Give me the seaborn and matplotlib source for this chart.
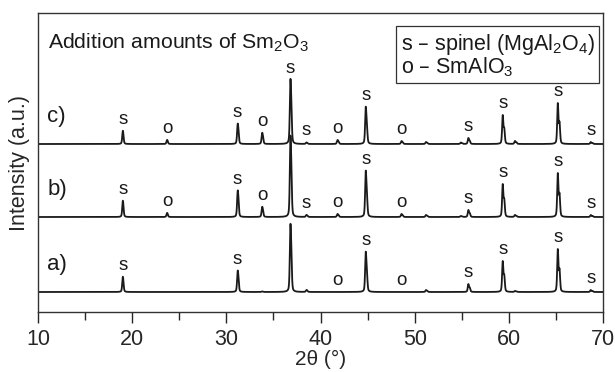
import numpy as np
import pandas as pd
import seaborn as sns
import matplotlib.pyplot as plt

# reflections: position (2theta, deg) and phase letter
peak_pos = [19.0, 23.7, 31.2, 33.8, 36.8, 38.5, 41.8, 44.8, 48.6, 51.2, 54.9, 55.7, 59.35, 60.65, 65.2, 68.7]
peak_phase = ["s", "o", "s", "o", "s", "s", "o", "s", "o", "", "", "s", "s", "", "s", "s"]

# peak intensities (a.u.)
int_a = [15, 0, 21, 0.5, 67, 2, 0, 40, 0, 2, 0, 8, 31, 1, 43, 2]
int_b = [16, 4, 26, 10, 80, 2, 3, 46, 3, 2, 1, 7, 33, 2, 44, 2]
int_c = [13, 4, 20, 11, 64, 1.5, 4, 37, 3, 2, 1.5, 6, 29, 3, 41, 2]

# which peaks carry a letter in each pattern
show_a = [1, 0, 1, 0, 0, 0, 1, 1, 1, 0, 0, 1, 1, 0, 1, 1]
show_b = [1, 1, 1, 1, 0, 1, 1, 1, 1, 0, 0, 1, 1, 0, 1, 1]
show_c = [1, 1, 1, 1, 1, 1, 1, 1, 1, 0, 0, 1, 1, 0, 1, 1]

samples = ["a)", "b)", "c)"]
intensities = [int_a, int_b, int_c]
shows = [show_a, show_b, show_c]
offsets = [20, 95, 168]  # vertical stacking of the patterns


def pv(x, fwhm=0.15, eta=0.4):
    g = np.exp(-4 * np.log(2) * (x / fwhm) ** 2)
    l = 1 / (1 + 4 * (x / fwhm) ** 2)
    return eta * l + (1 - eta) * g


tt = np.arange(10, 70.001, 0.01)
rows = []
for name, ints, off in zip(samples, intensities, offsets):
    y = np.zeros_like(tt)
    for p, h in zip(peak_pos, ints):
        d = np.degrees(2 * np.tan(np.radians(p / 2)) * 0.00248)  # Ka2 shift
        y += h * (pv(tt - p) + 0.5 * pv(tt - p - d)) / (1 + 0.5 * pv(d))
    rows.append(pd.DataFrame({"2theta": tt, "I": y + off, "sample": name}))
df = pd.concat(rows)

sns.set_style("ticks")
plt.rcParams["font.family"] = ["Liberation Sans", "DejaVu Sans"]
plt.rcParams["mathtext.default"] = "regular"

fig = plt.figure(figsize=(6.15, 3.72), dpi=100)
ax = fig.add_axes([0.0618, 0.1613, 0.9187, 0.8037])

sns.lineplot(data=df, x="2theta", y="I", hue="sample", palette=["#1a1a1a"] * 3,
             estimator=None, legend=False, lw=1.3, ax=ax)

for name, ints, show, off in zip(samples, intensities, shows, offsets):
    for p, h, ph, s in zip(peak_pos, ints, peak_phase, show):
        if s:
            ax.annotate(ph, (p, off + h), xytext=(0, 8.5), textcoords="offset points",
                        ha="center", va="center", fontsize=13.5, color="#1a1a1a")
    ax.text(11.0, off + 28, name, ha="left", va="center", fontsize=16, color="#1a1a1a")

ax.text(0.0177, 0.882, "Addition amounts of Sm$_2$O$_3$", transform=ax.transAxes,
        ha="left", va="baseline", fontsize=15.3, color="#1a1a1a")
ax.text(0.986, 0.938, "s \u2013 spinel (MgAl$_2$O$_4$)\no \u2013 SmAlO$_3$",
        transform=ax.transAxes, ha="right", va="top", fontsize=15.5, color="#1a1a1a",
        multialignment="left", linespacing=0.92,
        bbox=dict(boxstyle="square,pad=0.2", fc="white", ec="#333333", lw=0.9))

ax.set_xlim(10, 70)
ax.set_ylim(0, 299)
ax.set_xticks(range(10, 71, 10))
ax.set_xticks(range(15, 70, 10), minor=True)
ax.set_yticks([])
ax.tick_params(axis="x", which="major", direction="out", length=8, width=1, labelsize=15.5, pad=4)
ax.tick_params(axis="x", which="minor", direction="out", length=6, width=1)
ax.set_xlabel("2\u03b8 (\u00b0)", fontsize=15, labelpad=0.5)
ax.set_ylabel("Intensity (a.u.)", fontsize=15.5, labelpad=6)
for sp in ax.spines.values():
    sp.set_visible(True)
    sp.set_linewidth(1.0)
    sp.set_color("#333333")

fig.savefig("out.png", dpi=100)
